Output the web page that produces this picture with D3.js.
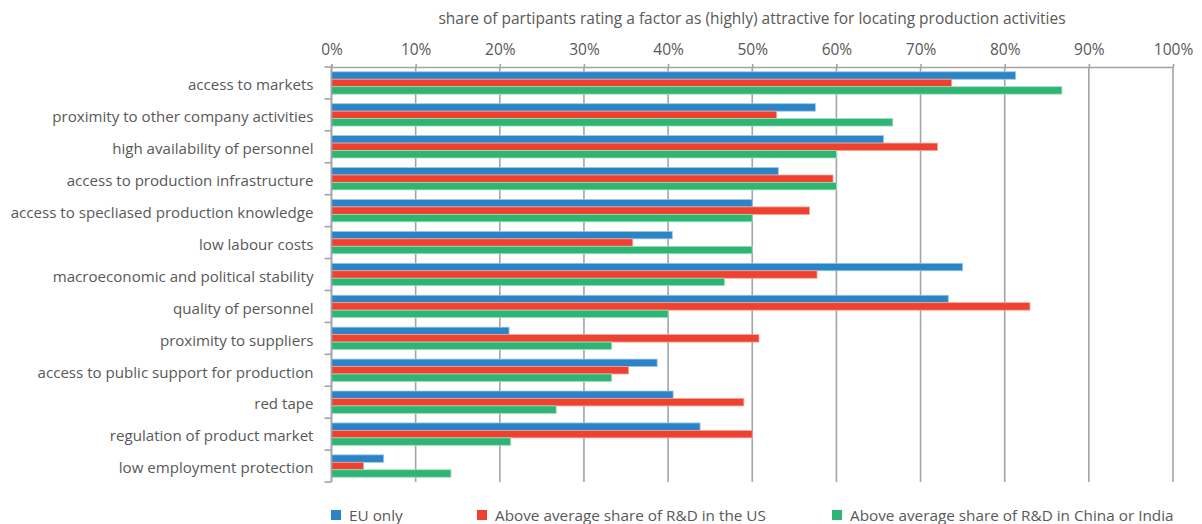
<!DOCTYPE html>
<html>
<head>
<meta charset="utf-8">
<script src="https://cdn.jsdelivr.net/npm/d3@7"></script>
<style>
  body { margin: 0; background: #fff; }
  text { font-family: "Open Sans", sans-serif; fill: #585858; }
</style>
</head>
<body>
<div id="vis"></div>
<script>
const categories = [
  "access to markets",
  "proximity to other company activities",
  "high availability of personnel",
  "access to production infrastructure",
  "access to specliased production knowledge",
  "low labour costs",
  "macroeconomic and political stability",
  "quality of personnel",
  "proximity to suppliers",
  "access to public support for production",
  "red tape",
  "regulation of product market",
  "low employment protection"
];

const seriesNames = [
  "EU only",
  "Above average share of R&D in the US",
  "Above average share of R&D in China or India"
];

const euOnly  = [81.3, 57.5, 65.6, 53.1, 50.0, 40.5, 75.0, 73.3, 21.1, 38.7, 40.6, 43.8, 6.2];
const usShare = [73.7, 52.9, 72.0, 59.6, 56.8, 35.8, 57.7, 83.0, 50.8, 35.3, 49.0, 50.0, 3.8];
const cnShare = [86.8, 66.7, 60.0, 60.0, 50.0, 50.0, 46.7, 40.0, 33.3, 33.3, 26.7, 21.3, 14.2];

const xTicks = [0, 10, 20, 30, 40, 50, 60, 70, 80, 90, 100];
const colors = ["#2a84c6", "#ef412f", "#2db574"];
const strokes = ["#9cc6e6", "#f6a197", "#a3dcbf"];

const rows = categories.map((c, i) => ({
  category: c,
  values: [euOnly[i], usShare[i], cnShare[i]]
}));

const W = 1202, H = 524;
const margin = { top: 67, right: 29, bottom: 42, left: 331.5 };
const width = W - margin.left - margin.right;
const height = H - margin.top - margin.bottom;

const svg = d3.select("#vis").append("svg")
  .attr("width", W)
  .attr("height", H);

const g = svg.append("g")
  .attr("transform", `translate(${margin.left},${margin.top})`);

const x = d3.scaleLinear().domain([0, 100]).range([0, width]);

const y = d3.scaleBand()
  .domain(categories)
  .range([0, height])
  .paddingInner(0.3)
  .paddingOuter(0.15);

const ySub = d3.scaleBand()
  .domain(d3.range(seriesNames.length))
  .range([0, y.bandwidth()]);

// title
svg.append("text")
  .attr("x", 752)
  .attr("y", 24)
  .attr("text-anchor", "middle")
  .style("font-size", "15.5px")
  .text("share of partipants rating a factor as (highly) attractive for locating production activities");

// vertical gridlines
g.append("g")
  .selectAll("line")
  .data(xTicks)
  .join("line")
  .attr("x1", d => x(d))
  .attr("x2", d => x(d))
  .attr("y1", 0)
  .attr("y2", height)
  .attr("stroke", "#a2a4a8")
  .attr("stroke-width", 1.6);

// top axis
const xAxis = g.append("g")
  .call(d3.axisTop(x).tickValues(xTicks).tickSize(3).tickSizeOuter(0).tickFormat(d => d + "%"));
xAxis.select(".domain").attr("stroke", "#a2a4a8").attr("stroke-width", 1.6);
xAxis.selectAll(".tick line").attr("stroke", "#a2a4a8").attr("stroke-width", 1.6);
xAxis.selectAll(".tick text")
  .attr("y", -12)
  .style("font-size", "15.5px")
  .style("font-family", "'Open Sans', sans-serif")
  .attr("fill", "#585858");

// bars
const groups = g.append("g")
  .selectAll("g")
  .data(rows)
  .join("g")
  .attr("transform", d => `translate(0,${y(d.category)})`);

groups.selectAll("rect")
  .data(d => d.values)
  .join("rect")
  .attr("x", 0)
  .attr("y", (d, i) => ySub(i))
  .attr("width", d => x(d))
  .attr("height", ySub.bandwidth())
  .attr("fill", (d, i) => colors[i])
  .attr("stroke", (d, i) => strokes[i])
  .attr("stroke-width", 0.8);

// left axis with ticks at band boundaries
const boundaries = d3.range(categories.length + 1).map(i => i * height / categories.length);
const yAxis = g.append("g");
yAxis.append("line")
  .attr("x1", 0).attr("x2", 0)
  .attr("y1", -2).attr("y2", height)
  .attr("stroke", "#a2a4a8")
  .attr("stroke-width", 1.6);
yAxis.selectAll(".btick")
  .data(boundaries)
  .join("line")
  .attr("class", "btick")
  .attr("x1", -7).attr("x2", 0)
  .attr("y1", d => d).attr("y2", d => d)
  .attr("stroke", "#a2a4a8")
  .attr("stroke-width", 1.6);

yAxis.selectAll(".lbl")
  .data(categories)
  .join("text")
  .attr("class", "lbl")
  .attr("x", -18)
  .attr("y", d => y(d) + y.bandwidth() / 2 + 2)
  .attr("dy", "0.35em")
  .attr("text-anchor", "end")
  .style("font-size", "15.1px")
  .text(d => d);

// legend
const legendX = [331, 477, 832];
const legend = svg.append("g")
  .selectAll("g")
  .data(seriesNames)
  .join("g")
  .attr("transform", (d, i) => `translate(${legendX[i]},510)`);

legend.append("rect")
  .attr("width", 10)
  .attr("height", 10)
  .attr("fill", (d, i) => colors[i]);

legend.append("text")
  .attr("x", 18)
  .attr("y", 11)
  .style("font-size", "15.3px")
  .text(d => d);
</script>
</body>
</html>
